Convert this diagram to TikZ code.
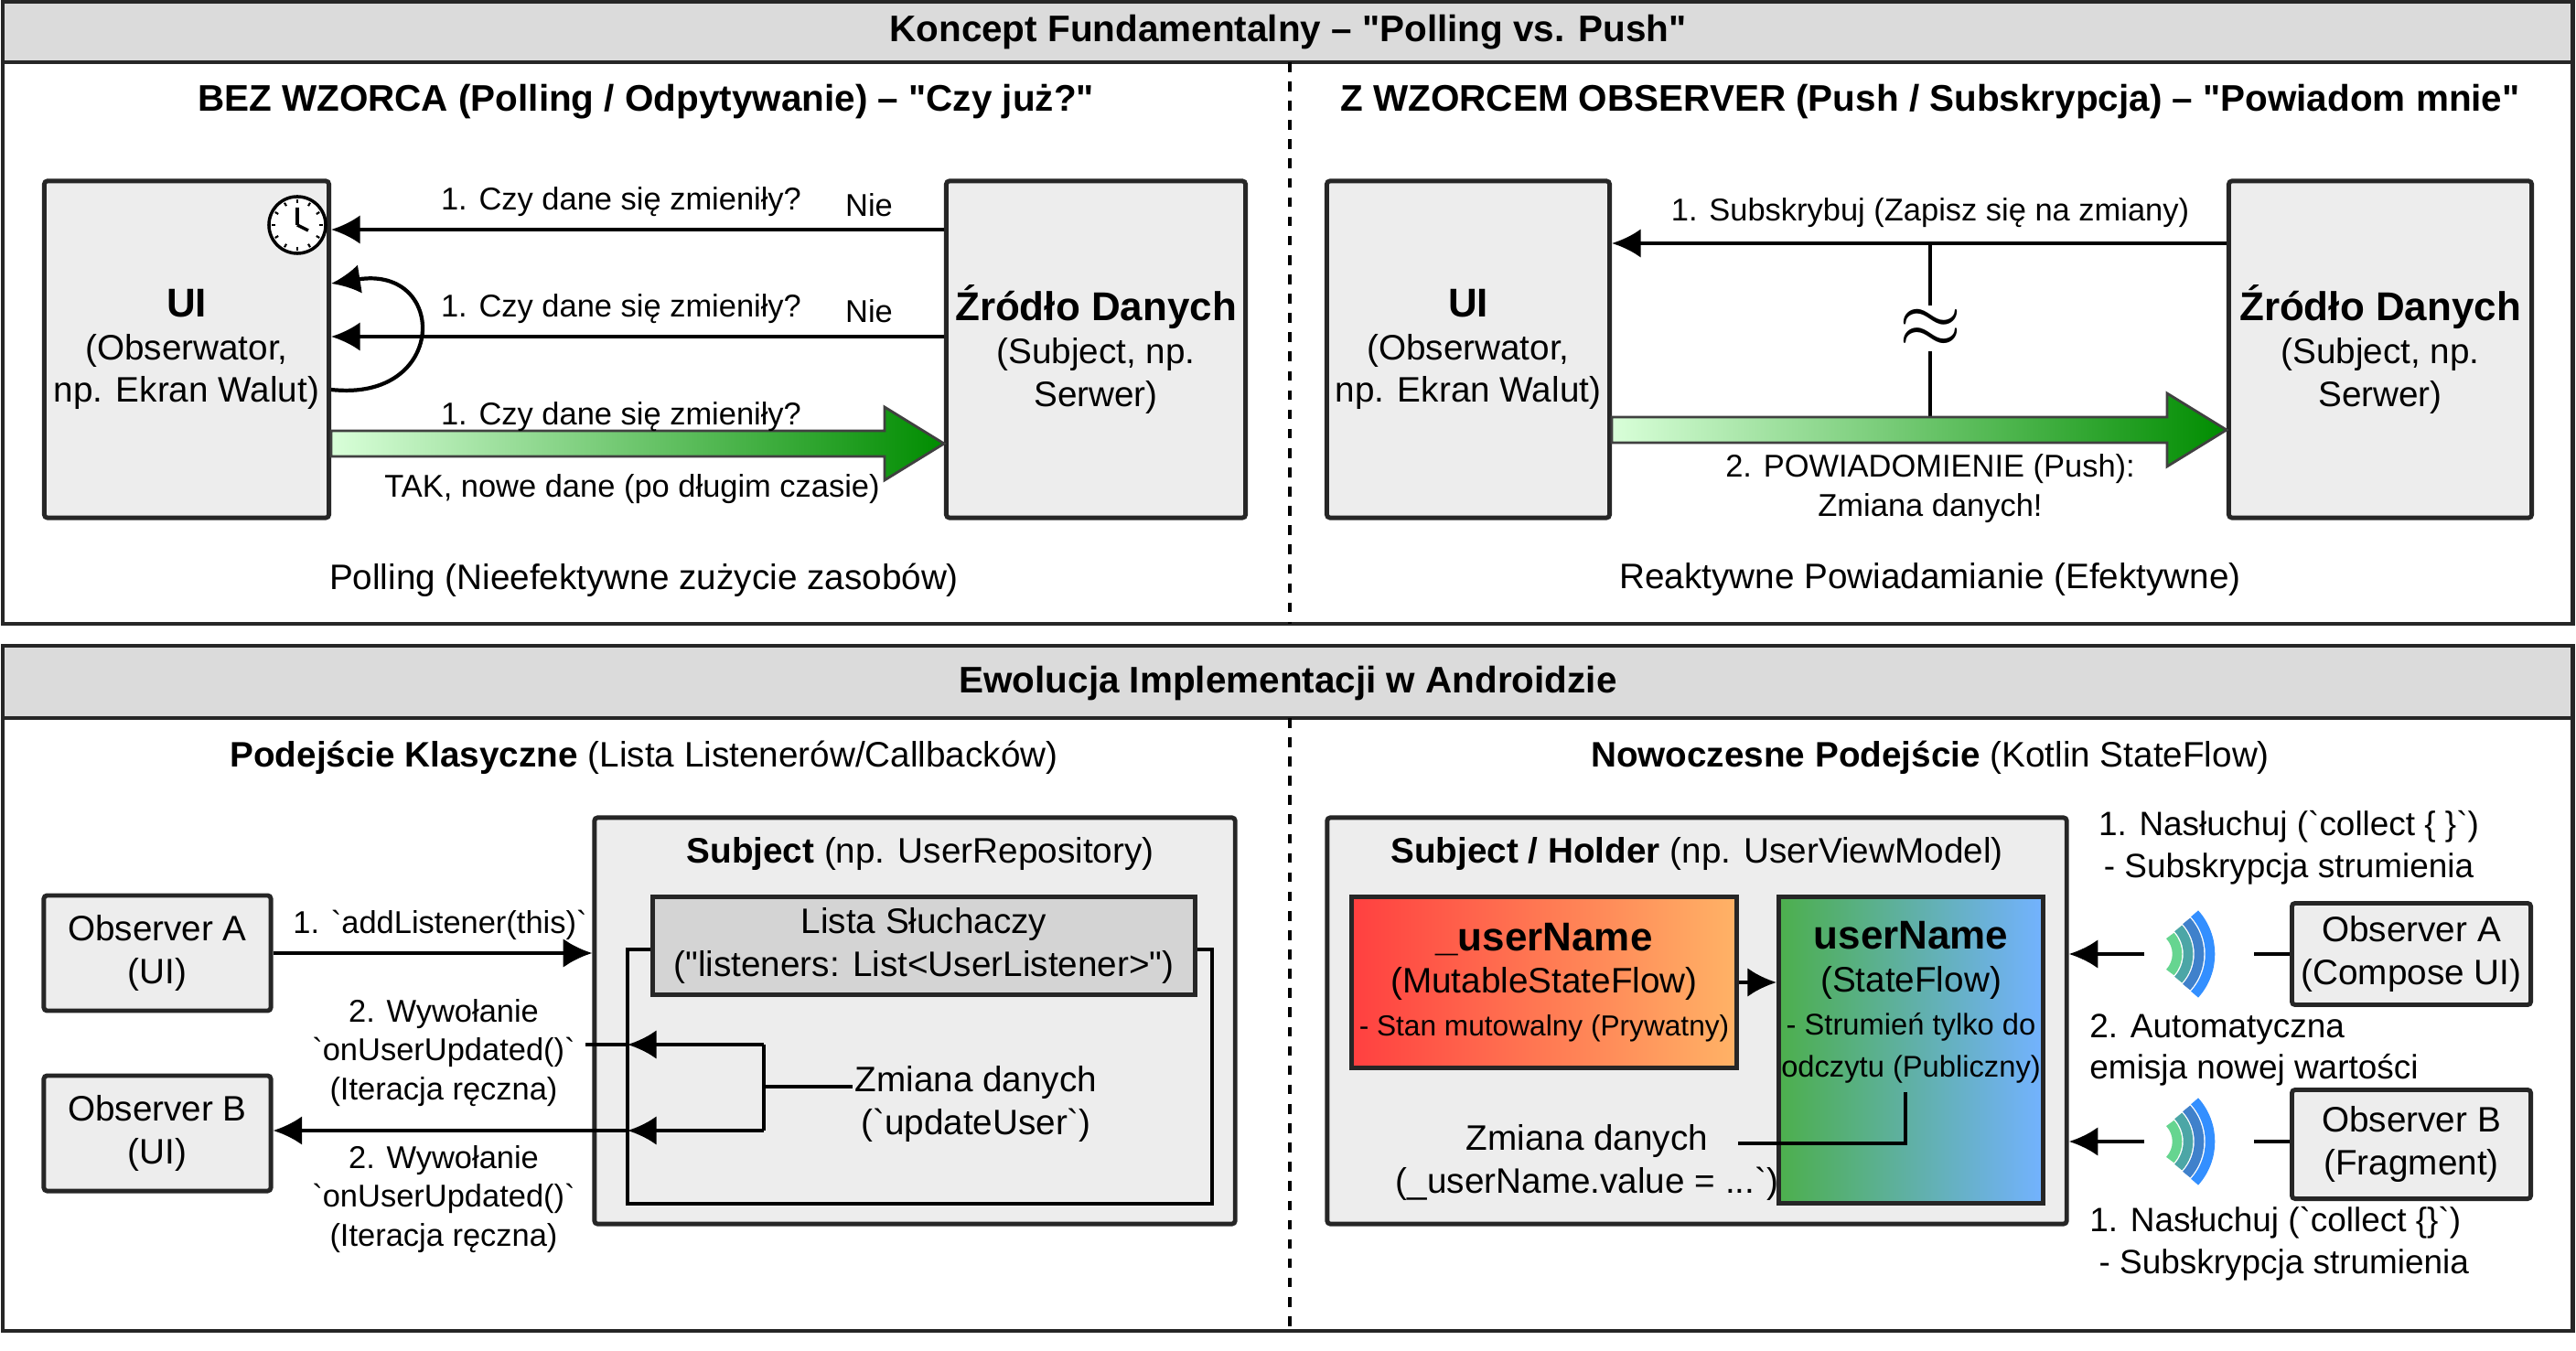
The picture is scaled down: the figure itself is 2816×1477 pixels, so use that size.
\documentclass[tikz,border=0pt]{standalone}
\usepackage{fontspec}
\defaultfontfeatures{}
\defaultfontfeatures[\rmfamily]{}
\setmainfont{Liberation Sans}[Ligatures=Common]
\usetikzlibrary{calc,arrows.meta,shadings}

\tikzset{
  panel/.style={draw=black!85, line width=1.4pt},
  bar/.style={fill=black!14, draw=black!85, line width=1.4pt},
  box/.style={draw=black!85, fill=black!7, line width=1.4pt, rounded corners=1pt},
  lbl/.style={font=\fontsize{9.8}{12}\selectfont, align=center},
  txt/.style={font=\fontsize{11}{13.3}\selectfont, align=center},
  ttl/.style={font=\fontsize{11.5}{14}\selectfont\bfseries},
  arr/.style={-{Latex[length=9pt,width=9pt]}, line width=1.2pt},
}
\newcommand{\bq}{\textasciigrave}

\begin{document}
\begin{tikzpicture}[x=0.01cm,y=-0.01cm]
\useasboundingbox (0,0) rectangle (2816,1477);

% Panels
 \draw[panel, fill=white] (3,2) rectangle (2812,682);
 \draw[bar] (3,2) rectangle (2812,68);
 \node[ttl] (h1) at (1408,35) {Koncept Fundamentalny – "Polling vs. Push"};
 \draw[dashed, line width=1.2pt] (1410,68) -- (1410,682);
 \draw[panel, fill=white] (3,706) rectangle (2812,1455);
 \draw[bar] (3,706) rectangle (2812,785);
 \node[ttl] (h2) at (1408,747) {Ewolucja Implementacji w Androidzie};
 \draw[dashed, line width=1.2pt] (1410,785) -- (1410,1455);

% Polling
 \node[ttl] (t1) at (706,111) {BEZ WZORCA (Polling / Odpytywanie) – "Czy już?"};
 \node[box, minimum width=3.11cm, minimum height=3.68cm] (ui) at (204,382) {};
 \node[txt] at (ui) {\textbf{\fontsize{12.5}{15}\selectfont UI}\\(Obserwator,\\np. Ekran Walut)};
 \node[box, minimum width=3.27cm, minimum height=3.68cm] (src) at (1198,382) {};
 \node[txt] at (src) {\textbf{\fontsize{12.5}{15}\selectfont Źródło Danych}\\(Subject, np.\\Serwer)};
 \node[circle, draw, fill=white, line width=1pt, minimum size=0.62cm] (clk) at (325,246) {};
 \foreach \a in {0,30,...,330}
  \draw[line width=.6pt] ($(clk)+(\a:24)$) -- ($(clk)+(\a:28)$);
 \draw[line width=1pt] (clk.center) -- ++(0,-19) (clk.center) -- ++(12,6);
 \draw[arr] (src.west |- 0,251) -- (ui.east |- 0,251);
 \node[lbl] at (679,221) {1. Czy dane się zmieniły?};
 \node[lbl] at (950,224) {Nie};
 \draw[arr] (src.west |- 0,368) -- (ui.east |- 0,368);
 \node[lbl] at (679,338) {1. Czy dane się zmieniły?};
 \node[lbl] at (950,340) {Nie};
 \draw[arr] (ui.east |- 0,426) .. controls (490,440) and (490,290) .. (ui.east |- 0,310);
 \coordinate (g1a) at (ui.east |- 0,485);
 \coordinate (g1b) at (src.west |- 0,485);
 \draw[left color=green!15, right color=green!55!black, draw=black!75, line width=.8pt]
  ($(g1a)+(0,-14)$) -- ($(g1b)+(-65,-14)$) -- ($(g1b)+(-65,-40)$) -- (g1b)
  -- ($(g1b)+(-65,40)$) -- ($(g1b)+(-65,14)$) -- ($(g1a)+(0,14)$) -- cycle;
 \node[lbl] at (679,456) {1. Czy dane się zmieniły?};
 \node[lbl] at (691,535) {TAK, nowe dane (po długim czasie)};
 \node[txt] at (704,634) {Polling (Nieefektywne zużycie zasobów)};

% Push
 \node[ttl] (t2) at (2110,111) {Z WZORCEM OBSERVER (Push / Subskrypcja) – "Powiadom mnie"};
 \node[box, minimum width=3.09cm, minimum height=3.68cm] (ui2) at (1605,382) {};
 \node[txt] at (ui2) {\textbf{\fontsize{12.5}{15}\selectfont UI}\\(Obserwator,\\np. Ekran Walut)};
 \node[box, minimum width=3.31cm, minimum height=3.68cm] (src2) at (2602,382) {};
 \node[txt] at (src2) {\textbf{\fontsize{12.5}{15}\selectfont Źródło Danych}\\(Subject, np.\\Serwer)};
 \draw[arr] (src2.west |- 0,266) -- (ui2.east |- 0,266);
 \node[lbl] at (2110,233) {1. Subskrybuj (Zapisz się na zmiany)};
 \draw[line width=1.2pt] (2110,266) -- (2110,458);
 \node[fill=white, inner sep=1pt, font=\fontsize{26}{26}\selectfont] (wave) at (2110,359) {$\approx$};
 \coordinate (g2a) at (ui2.east |- 0,470);
 \coordinate (g2b) at (src2.west |- 0,470);
 \draw[left color=green!15, right color=green!55!black, draw=black!75, line width=.8pt]
  ($(g2a)+(0,-14)$) -- ($(g2b)+(-65,-14)$) -- ($(g2b)+(-65,-40)$) -- (g2b)
  -- ($(g2b)+(-65,40)$) -- ($(g2b)+(-65,14)$) -- ($(g2a)+(0,14)$) -- cycle;
 \node[lbl] at (2110,534) {2. POWIADOMIENIE (Push):\\Zmiana danych!};
 \node[txt] at (2110,634) {Reaktywne Powiadamianie (Efektywne)};

% Classic
 \node[txt] at (704,828) {\textbf{Podejście Klasyczne} (Lista Listenerów/Callbacków)};
 \node[box, minimum width=2.48cm, minimum height=1.26cm] (obsA) at (172,1042) {};
 \node[txt] at (obsA) {Observer A\\(UI)};
 \node[box, minimum width=2.48cm, minimum height=1.26cm] (obsB) at (172,1239) {};
 \node[txt] at (obsB) {Observer B\\(UI)};
 \node[box, minimum width=7cm, minimum height=4.44cm] (subj) at (1000,1116) {};
 \node[txt] at (1006,934) {\textbf{Subject} (np. UserRepository)};
 \draw[line width=1.2pt] (686,1038) rectangle (1325,1316);
 \node[draw=black!85, line width=1.4pt, fill=black!17, minimum width=5.93cm, minimum height=1.06cm, txt] (list) at (1010,1034) {Lista Słuchaczy\\("listeners: List<UserListener>")};
 \draw[arr] (obsA.east |- 0,1042) -- (subj.west |- 0,1042);
 \node[lbl] at (481,1011) {1. \bq addListener(this)\bq};
 \coordinate (jA) at (835,1142);
 \coordinate (jB) at (835,1236);
 \coordinate (jC) at (835,1188);
 \node[txt] (chg) at (1067,1207) {Zmiana danych\\(\bq updateUser\bq)};
 \draw[line width=1.2pt] (jA) -- (jB) (jC) -- ($(chg.west |- jC)+(10,0)$);
 \draw[arr] (jA) -- (686,1142);
 \draw[line width=1.2pt] (686,1142) -- (640,1142);
 \draw[arr] (jB) -- (686,1236);
 \draw[arr] (686,1236) -- (obsB.east |- jB);
 \node[lbl] at (485,1151) {2. Wywołanie\\\bq onUserUpdated()\bq\\(Iteracja ręczna)};
 \node[lbl] at (485,1311) {2. Wywołanie\\\bq onUserUpdated()\bq\\(Iteracja ręczna)};

% StateFlow
 \node[txt] at (2110,828) {\textbf{Nowoczesne Podejście} (Kotlin StateFlow)};
 \node[box, minimum width=8.08cm, minimum height=4.44cm] (hold) at (1855,1116) {};
 \node[txt] at (1855,934) {\textbf{Subject / Holder} (np. UserViewModel)};
 \node[draw=black!85, line width=1.4pt, left color=red!75, right color=orange!60, minimum width=4.2cm, minimum height=1.86cm] (mut) at (1688,1074) {};
 \node[txt] at (mut) {\textbf{\fontsize{12.5}{15}\selectfont \_userName}\\(MutableStateFlow)\\{\fontsize{9}{11}\selectfont - Stan mutowalny (Prywatny)}};
 \node[draw=black!85, line width=1.4pt, left color=green!55!black!70, right color=cyan!45!blue!55, minimum width=2.89cm, minimum height=3.35cm] (flow) at (2089,1148) {};
 \node[txt, anchor=north] at (2089,995) {\textbf{\fontsize{12.5}{15}\selectfont userName}\\(StateFlow)\\{\fontsize{9.3}{11.5}\selectfont - Strumień tylko do}\\{\fontsize{9.3}{11.5}\selectfont odczytu (Publiczny)}};
 \draw[arr] (mut.east) -- (flow.west |- mut.east);
 \node[txt] (chg2) at (1735,1271) {Zmiana danych\\(\_userName.value = ...\bq)};
 \draw[line width=1.2pt] (1900,1250) -- (2083,1250) -- (2083,1194);
 \node[box, minimum width=2.61cm, minimum height=1.11cm] (oA) at (2636,1043) {};
 \node[txt] at (oA) {Observer A\\(Compose UI)};
 \node[box, minimum width=2.61cm, minimum height=1.19cm] (oB) at (2636,1251) {};
 \node[txt] at (oB) {Observer B\\(Fragment)};
 \foreach \o/\y in {oA/1043,oB/1248}{
  \draw[line width=1.2pt] (\o.west |- 0,\y) -- (2464,\y);
  \draw[arr] (2344,\y) -- (hold.east |- 0,\y);
  \foreach \r/\c in {30/green!45!teal!60,42/teal!70,54/cyan!50!blue!80,66/blue!55!cyan!80}
   \draw[\c, line width=3pt] ($(2350,\y)+(-42:\r)$) arc[start angle=-42, end angle=42, radius=\r];
 }
 \node[lbl, font=\fontsize{10.5}{13}\selectfont] at (2502,927) {1. Nasłuchuj (\bq collect \{ \}\bq)\\- Subskrypcja strumienia};
 \node[lbl, font=\fontsize{10.5}{13}\selectfont, anchor=west, align=left] at (2272,1148) {2. Automatyczna\\emisja nowej wartości};
 \node[lbl, font=\fontsize{10.5}{13}\selectfont, anchor=west, align=left] at (2272,1360) {1. Nasłuchuj (\bq collect \{\}\bq)\\\ - Subskrypcja strumienia};
\end{tikzpicture}
\end{document}
